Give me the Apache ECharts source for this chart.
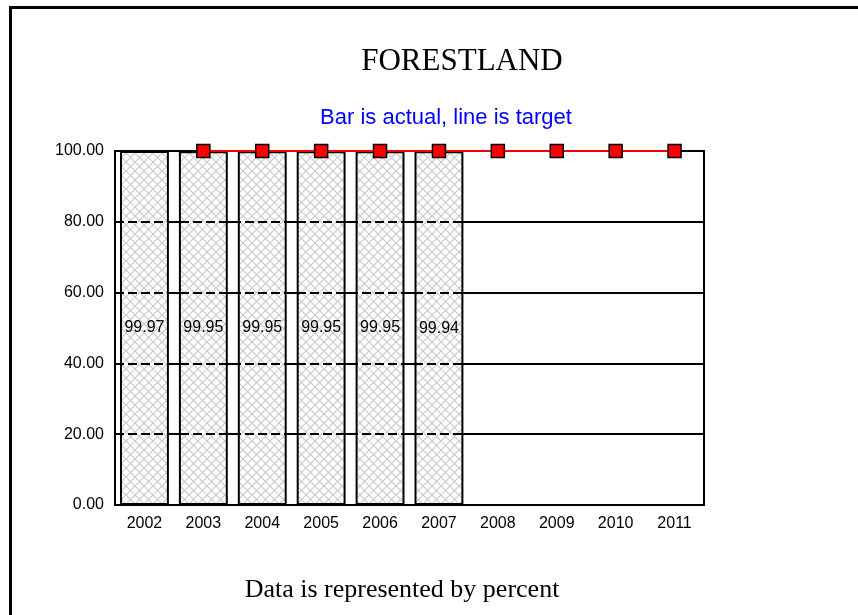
<!DOCTYPE html>
<html>
<head>
<meta charset="utf-8">
<script src="https://cdn.jsdelivr.net/npm/echarts@6/dist/echarts.min.js"></script>
<style>
  html, body { margin: 0; padding: 0; background: #fff; }
  #main { width: 858px; height: 615px; }
</style>
</head>
<body>
<div id="main"></div>
<script>
var years = ['2002', '2003', '2004', '2005', '2006', '2007', '2008', '2009', '2010', '2011'];
var actual = [99.97, 99.95, 99.95, 99.95, 99.95, 99.94, '-', '-', '-', '-'];
var target = ['-', 100, 100, 100, 100, 100, 100, 100, 100, 100];
var yTicks = [0, 20, 40, 60, 80, 100];

// crosshatch fill for the bars
function hatch() {
  var c = document.createElement('canvas');
  c.width = 9;
  c.height = 9;
  var ctx = c.getContext('2d');
  ctx.fillStyle = '#fff';
  ctx.fillRect(0, 0, 9, 9);
  ctx.strokeStyle = '#c8c8c8';
  ctx.lineWidth = 1.1;
  ctx.beginPath();
  ctx.moveTo(-1, -1); ctx.lineTo(10, 10);
  ctx.moveTo(10, -1); ctx.lineTo(-1, 10);
  ctx.stroke();
  return c;
}

var chart = echarts.init(document.getElementById('main'), null, { renderer: 'canvas' });

var axisFont = { color: '#000', fontSize: 16, fontFamily: 'Liberation Sans, Arial, sans-serif' };

chart.setOption({
  animation: false,
  backgroundColor: '#fff',
  graphic: [
    { type: 'rect', shape: { x: 10.5, y: 7.5, width: 900, height: 700 },
      style: { fill: 'none', stroke: '#000', lineWidth: 3 }, silent: true },
    { type: 'text', x: 462, y: 62,
      style: { text: 'FORESTLAND', font: '31px "Liberation Serif", "Times New Roman", serif',
        fill: '#000', textAlign: 'center', textVerticalAlign: 'middle' } },
    { type: 'text', x: 446, y: 118,
      style: { text: 'Bar is actual, line is target', font: '22px "Liberation Sans", Arial, sans-serif',
        fill: '#0000ff', textAlign: 'center', textVerticalAlign: 'middle' } },
    { type: 'text', x: 402, y: 590,
      style: { text: 'Data is represented by percent', font: '26px "Liberation Serif", "Times New Roman", serif',
        fill: '#000', textAlign: 'center', textVerticalAlign: 'middle' } }
  ],
  grid: {
    left: 115, right: 154, top: 151, bottom: 110,
    show: true, borderColor: '#000', borderWidth: 2, backgroundColor: 'transparent'
  },
  xAxis: {
    type: 'category',
    data: years,
    axisLine: { lineStyle: { color: '#000', width: 2 } },
    axisTick: { show: false },
    axisLabel: Object.assign({ margin: 11 }, axisFont),
    splitLine: { show: false }
  },
  yAxis: [
    {
      type: 'value', min: yTicks[0], max: yTicks[yTicks.length - 1], interval: 20,
      axisLine: { show: true, lineStyle: { color: '#000', width: 2 } },
      axisTick: { show: false },
      axisLabel: Object.assign({ margin: 11, formatter: function (v) { return v.toFixed(2); } }, axisFont),
      splitLine: { show: true, lineStyle: { color: '#000', width: 2 } }
    },
    {
      // dashed grid drawn over the bars
      type: 'value', min: yTicks[0], max: yTicks[yTicks.length - 1], interval: 20,
      position: 'left', z: 5,
      axisLine: { show: false }, axisTick: { show: false }, axisLabel: { show: false },
      splitLine: { show: true, lineStyle: { color: '#000', width: 2, type: [9, 4] } }
    }
  ],
  series: [
    {
      name: 'actual',
      type: 'bar',
      data: actual,
      barCategoryGap: '17%',
      itemStyle: {
        color: { image: hatch(), repeat: 'repeat' },
        borderColor: '#000',
        borderWidth: 2
      },
      label: {
        show: true, position: 'inside', color: '#000', fontSize: 16,
        fontFamily: 'Liberation Sans, Arial, sans-serif',
        formatter: function (p) { return p.value.toFixed(2); }
      },
      z: 2
    },
    {
      name: 'target',
      type: 'line',
      data: target,
      z: 8,
      symbol: 'rect',
      symbolSize: 13,
      lineStyle: { color: '#ff0000', width: 2 },
      itemStyle: { color: '#ff0000', borderColor: '#000', borderWidth: 1.5 }
    }
  ]
});
</script>
</body>
</html>
